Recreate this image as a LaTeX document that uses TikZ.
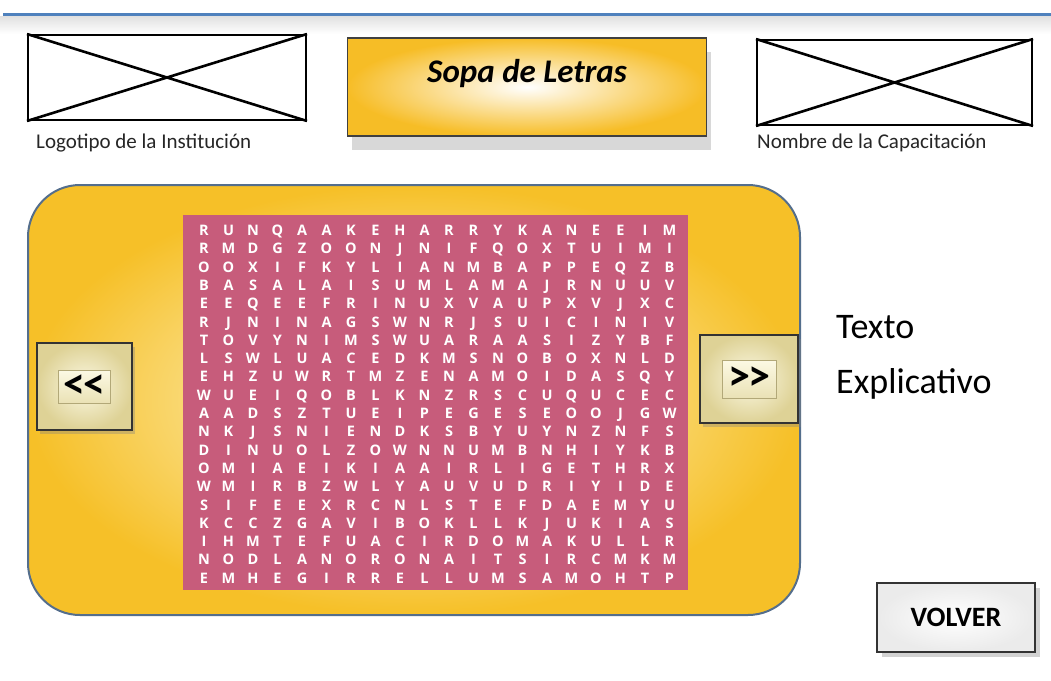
\documentclass[tikz,border=0pt]{standalone}
\usepackage{fontspec}
\setmainfont{Carlito}
\newfontfamily\letrafont{Open Sans}
\usetikzlibrary{shadows,calc}

\definecolor{azul}{RGB}{79,129,189}
\definecolor{bordepanel}{RGB}{84,110,140}
\definecolor{rosa}{RGB}{199,92,123}
\definecolor{dorado}{RGB}{246,192,40}
\definecolor{claro}{RGB}{255,250,220}
\definecolor{crema}{RGB}{222,210,150}
\definecolor{cremaclaro}{RGB}{252,249,228}

\tikzset{
    marco/.style={draw=black, line width=2pt, inner sep=0pt},
    rotulo/.style={anchor=base west, inner sep=0pt, text=black!85, font=\fontsize{21}{24}\selectfont},
    letra/.style={anchor=base, inner sep=0pt, text=white, font=\letrafont\bfseries\fontsize{14.5}{15}\selectfont},
    boton/.style={draw=black!80, line width=1.8pt, inner sep=0pt, inner color=cremaclaro, outer color=crema,
        drop shadow={shadow xshift=3pt, shadow yshift=-4pt, opacity=.35}},
    cara/.style={draw=crema!80!black, line width=.4pt, inner sep=0pt, top color=cremaclaro, bottom color=crema!60!cremaclaro},
    flecha/.style={inner sep=0pt, font=\bfseries\fontsize{44}{44}\selectfont}
}

\begin{document}
\begin{tikzpicture}[x=1pt,y=-1pt]
    \useasboundingbox (0,0) rectangle (1051,680);
    \fill[white] (0,0) rectangle (1051,680);
    % franja superior
    \shade[top color=black!12, bottom color=white] (0,16) rectangle (1051,34);
    \draw[azul, line width=3pt] (3,14.5) -- (1051,14.5);

    % logotipo y nombre de la capacitacion
    \node[marco, minimum width=278pt, minimum height=85pt] (logo) at (167,77.5) {};
    \draw[line width=2.6pt] (logo.north west) -- (logo.south east) (logo.south west) -- (logo.north east);
    \node[rotulo] (rotlogo) at (36,148) {Logotipo de la Institución};
    \node[marco, minimum width=275pt, minimum height=85pt] (capac) at (894.5,82.5) {};
    \draw[line width=2.6pt] (capac.north west) -- (capac.south east) (capac.south west) -- (capac.north east);
    \node[rotulo] (rotcap) at (757,148) {Nombre de la Capacitación};

    % titulo
    \node[draw=black!75, line width=1.8pt, minimum width=359pt, minimum height=98pt, inner sep=0pt,
        inner color=white, outer color=dorado!95!orange,
        drop shadow={shadow xshift=4pt, shadow yshift=-14pt, opacity=.3}] (titulo) at (527,87) {};
    \node[anchor=base, font=\bfseries\itshape\fontsize{33}{33}\selectfont] (nomtitulo)
        at ($(titulo.north)+(0,45)$) {Sopa de Letras};

    % panel central
    \draw[bordepanel, line width=2pt, rounded corners=52pt, inner color=claro, outer color=dorado]
        (28,185) rectangle (800,615);
    \fill[rosa] (183,215) rectangle (688,590);
    \foreach \fila [count=\j] in {
        {R,U,N,Q,A,A,K,E,H,A,R,R,Y,K,A,N,E,E,I,M},
        {R,M,D,G,Z,O,O,N,J,N,I,F,Q,O,X,T,U,I,M,I},
        {O,O,X,I,F,K,Y,L,I,A,N,M,B,A,P,P,E,Q,Z,B},
        {B,A,S,A,L,A,I,S,U,M,L,A,M,A,J,R,N,U,U,V},
        {E,E,Q,E,E,F,R,I,N,U,X,V,A,U,P,X,V,J,X,C},
        {R,J,N,I,N,A,G,S,W,N,R,J,S,U,I,C,I,N,I,V},
        {T,O,V,Y,N,I,M,S,W,U,A,R,A,A,S,I,Z,Y,B,F},
        {L,S,W,L,U,A,C,E,D,K,M,S,N,O,B,O,X,N,L,D},
        {E,H,Z,U,W,R,T,M,Z,E,N,A,M,O,I,D,A,S,Q,Y},
        {W,U,E,I,Q,O,B,L,K,N,Z,R,S,C,U,Q,U,C,E,C},
        {A,A,D,S,Z,T,U,E,I,P,E,G,E,S,E,O,O,J,G,W},
        {N,K,J,S,N,I,E,N,D,K,S,B,Y,U,Y,N,Z,N,F,S},
        {D,I,N,U,O,L,Z,O,W,N,N,U,M,B,N,H,I,Y,K,B},
        {O,M,I,A,E,I,K,I,A,A,I,R,L,I,G,E,T,H,R,X},
        {W,M,I,R,B,Z,W,L,Y,A,U,V,U,D,R,I,Y,I,D,E},
        {S,I,F,E,E,X,R,C,N,L,S,T,E,F,D,A,E,M,Y,U},
        {K,C,C,Z,G,A,V,I,B,O,K,L,L,K,J,U,K,I,A,S},
        {I,H,M,T,E,F,U,A,C,I,R,D,O,M,A,K,U,L,L,R},
        {N,O,D,L,A,N,O,R,O,N,A,I,T,S,I,R,C,M,K,M},
        {E,M,H,E,G,I,R,R,E,L,L,U,M,S,A,M,O,H,T,P}}{
        \foreach \l [count=\i] in \fila
            \node[letra] (l\j-\i) at ({204+24.5*(\i-1)},{235.5+18.3*(\j-1)}) {\l};
    }

    % botones de navegacion
    \node[boton, minimum width=95pt, minimum height=87pt] (atras) at (84.5,386.5) {};
    \node[cara, minimum width=52pt, minimum height=33pt] (caraatras) at (atras.center) {};
    \node[flecha] (txtatras) at (caraatras.center) {{<}\kern-2pt{<}};
    \node[boton, minimum width=98pt, minimum height=88pt] (adelante) at (749,379) {};
    \node[cara, minimum width=54pt, minimum height=38pt] (caraadelante) at (adelante.center) {};
    \node[flecha] (txtadelante) at (caraadelante.center) {{>}\kern-2pt{>}};

    % texto explicativo
    \node[anchor=base west, inner sep=0pt, font=\fontsize{36}{40}\selectfont] (texto1) at (836,338) {Texto};
    \node[anchor=base west, inner sep=0pt, font=\fontsize{36}{40}\selectfont] (texto2) at (836,393) {Explicativo};

    % boton volver
    \node[draw=black!80, line width=1.8pt, minimum width=158pt, minimum height=69pt, inner sep=0pt,
        inner color=white, outer color=black!8,
        drop shadow={shadow xshift=5pt, shadow yshift=-5pt, opacity=.35},
        font=\bfseries\fontsize{28}{28}\selectfont] (volver) at (956,617.5) {VOLVER};
\end{tikzpicture}
\end{document}
